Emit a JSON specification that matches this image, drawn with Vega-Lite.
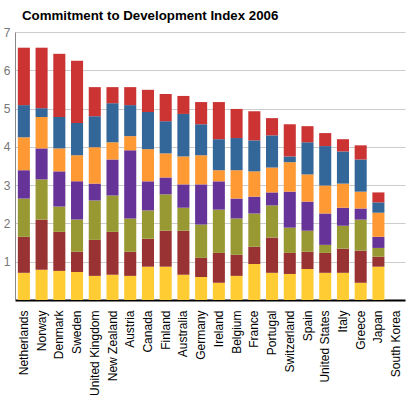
{
  "$schema": "https://vega.github.io/schema/vega-lite/v6.json",
  "autosize": {"type": "none"},
  "width": 390,
  "height": 268,
  "padding": {"left": 15, "top": 32, "right": 15, "bottom": 100},
  "background": "white",
  "title": {
    "text": "Commitment to Development Index 2006",
    "anchor": "start",
    "frame": "group",
    "dx": 7,
    "offset": 4,
    "font": "Liberation Sans",
    "fontSize": 13.3,
    "fontWeight": "bold",
    "color": "black"
  },
  "datasets": {
    "components": [
      {"component": "Technology", "rank": 1},
      {"component": "Security", "rank": 2},
      {"component": "Environment", "rank": 3},
      {"component": "Migration", "rank": 4},
      {"component": "Investment", "rank": 5},
      {"component": "Trade", "rank": 6},
      {"component": "Aid", "rank": 7}
    ]
  },
  "data": {
    "values": [
      {"country": "Netherlands", "Technology": 0.71, "Security": 0.94, "Environment": 1.00, "Migration": 0.74, "Investment": 0.86, "Trade": 0.84, "Aid": 1.50},
      {"country": "Norway", "Technology": 0.79, "Security": 1.31, "Environment": 1.05, "Migration": 0.81, "Investment": 0.82, "Trade": 0.23, "Aid": 1.58},
      {"country": "Denmark", "Technology": 0.76, "Security": 1.02, "Environment": 0.66, "Migration": 0.92, "Investment": 0.60, "Trade": 0.82, "Aid": 1.65},
      {"country": "Sweden", "Technology": 0.73, "Security": 0.53, "Environment": 0.84, "Migration": 1.00, "Investment": 0.68, "Trade": 0.84, "Aid": 1.63},
      {"country": "United Kingdom", "Technology": 0.63, "Security": 0.94, "Environment": 1.03, "Migration": 0.44, "Investment": 0.95, "Trade": 0.81, "Aid": 0.76},
      {"country": "New Zealand", "Technology": 0.66, "Security": 1.12, "Environment": 0.95, "Migration": 0.94, "Investment": 0.45, "Trade": 1.02, "Aid": 0.42},
      {"country": "Austria", "Technology": 0.63, "Security": 0.63, "Environment": 0.87, "Migration": 1.78, "Investment": 0.37, "Trade": 0.81, "Aid": 0.47},
      {"country": "Canada", "Technology": 0.87, "Security": 0.73, "Environment": 0.74, "Migration": 0.76, "Investment": 0.84, "Trade": 0.97, "Aid": 0.58},
      {"country": "Finland", "Technology": 0.87, "Security": 0.94, "Environment": 0.95, "Migration": 0.44, "Investment": 0.63, "Trade": 0.84, "Aid": 0.71},
      {"country": "Australia", "Technology": 0.66, "Security": 1.15, "Environment": 0.60, "Migration": 0.61, "Investment": 0.73, "Trade": 1.11, "Aid": 0.47},
      {"country": "Germany", "Technology": 0.60, "Security": 0.50, "Environment": 0.87, "Migration": 1.05, "Investment": 0.76, "Trade": 0.81, "Aid": 0.58},
      {"country": "Ireland", "Technology": 0.45, "Security": 0.78, "Environment": 1.13, "Migration": 0.74, "Investment": 0.29, "Trade": 0.81, "Aid": 0.97},
      {"country": "Belgium", "Technology": 0.63, "Security": 0.55, "Environment": 0.95, "Migration": 0.52, "Investment": 0.74, "Trade": 0.84, "Aid": 0.76},
      {"country": "France", "Technology": 0.94, "Security": 0.45, "Environment": 0.87, "Migration": 0.44, "Investment": 0.66, "Trade": 0.81, "Aid": 0.76},
      {"country": "Portugal", "Technology": 0.71, "Security": 0.92, "Environment": 0.84, "Migration": 0.34, "Investment": 0.65, "Trade": 0.84, "Aid": 0.45},
      {"country": "Switzerland", "Technology": 0.68, "Security": 0.55, "Environment": 0.66, "Migration": 0.94, "Investment": 0.77, "Trade": 0.15, "Aid": 0.84},
      {"country": "Spain", "Technology": 0.81, "Security": 0.45, "Environment": 0.55, "Migration": 0.76, "Investment": 0.71, "Trade": 0.84, "Aid": 0.42},
      {"country": "United States", "Technology": 0.71, "Security": 0.52, "Environment": 0.21, "Migration": 0.82, "Investment": 0.73, "Trade": 1.03, "Aid": 0.34},
      {"country": "Italy", "Technology": 0.71, "Security": 0.63, "Environment": 0.60, "Migration": 0.47, "Investment": 0.63, "Trade": 0.84, "Aid": 0.32},
      {"country": "Greece", "Technology": 0.45, "Security": 0.84, "Environment": 0.81, "Migration": 0.29, "Investment": 0.44, "Trade": 0.84, "Aid": 0.37},
      {"country": "Japan", "Technology": 0.87, "Security": 0.26, "Environment": 0.23, "Migration": 0.29, "Investment": 0.63, "Trade": 0.27, "Aid": 0.26}
    ]
  },
  "transform": [
    {"fold": ["Technology", "Security", "Environment", "Migration", "Investment", "Trade", "Aid"], "as": ["component", "score"]},
    {"lookup": "component", "from": {"data": {"name": "components"}, "key": "component", "fields": ["rank"]}}
  ],
  "mark": {"type": "bar"},
  "encoding": {
    "x": {
      "field": "country",
      "type": "nominal",
      "sort": null,
      "scale": {
        "domain": ["Netherlands", "Norway", "Denmark", "Sweden", "United Kingdom", "New Zealand", "Austria", "Canada", "Finland", "Australia", "Germany", "Ireland", "Belgium", "France", "Portugal", "Switzerland", "Spain", "United States", "Italy", "Greece", "Japan", "South Korea"],
        "paddingInner": 0.32,
        "paddingOuter": 0.16
      },
      "axis": {
        "title": null,
        "labelAngle": -90,
        "labelAlign": "right",
        "labelBaseline": "middle",
        "labelFont": "Liberation Sans",
        "labelFontSize": 12,
        "labelColor": "black",
        "labelPadding": 10,
        "ticks": false,
        "domainColor": "black",
        "domainWidth": 2
      }
    },
    "y": {
      "field": "score",
      "type": "quantitative",
      "stack": "zero",
      "scale": {"domain": [0, 7], "nice": false},
      "axis": {
        "title": null,
        "values": [0, 1, 2, 3, 4, 5, 6, 7],
        "labelExpr": "datum.value == 0 ? '' : datum.label",
        "labelFont": "Liberation Sans",
        "labelFontSize": 12,
        "labelColor": "#777777",
        "labelPadding": 5,
        "ticks": false,
        "domainColor": "#888888",
        "gridColor": "#cccccc",
        "gridWidth": 1
      }
    },
    "order": {"field": "rank", "type": "quantitative", "sort": "ascending"},
    "color": {
      "field": "component",
      "type": "nominal",
      "scale": {
        "domain": ["Technology", "Security", "Environment", "Migration", "Investment", "Trade", "Aid"],
        "range": ["#ffcc33", "#993333", "#999933", "#663399", "#ff9933", "#336699", "#cc3333"]
      },
      "legend": null
    }
  },
  "config": {"view": {"stroke": null}}
}
